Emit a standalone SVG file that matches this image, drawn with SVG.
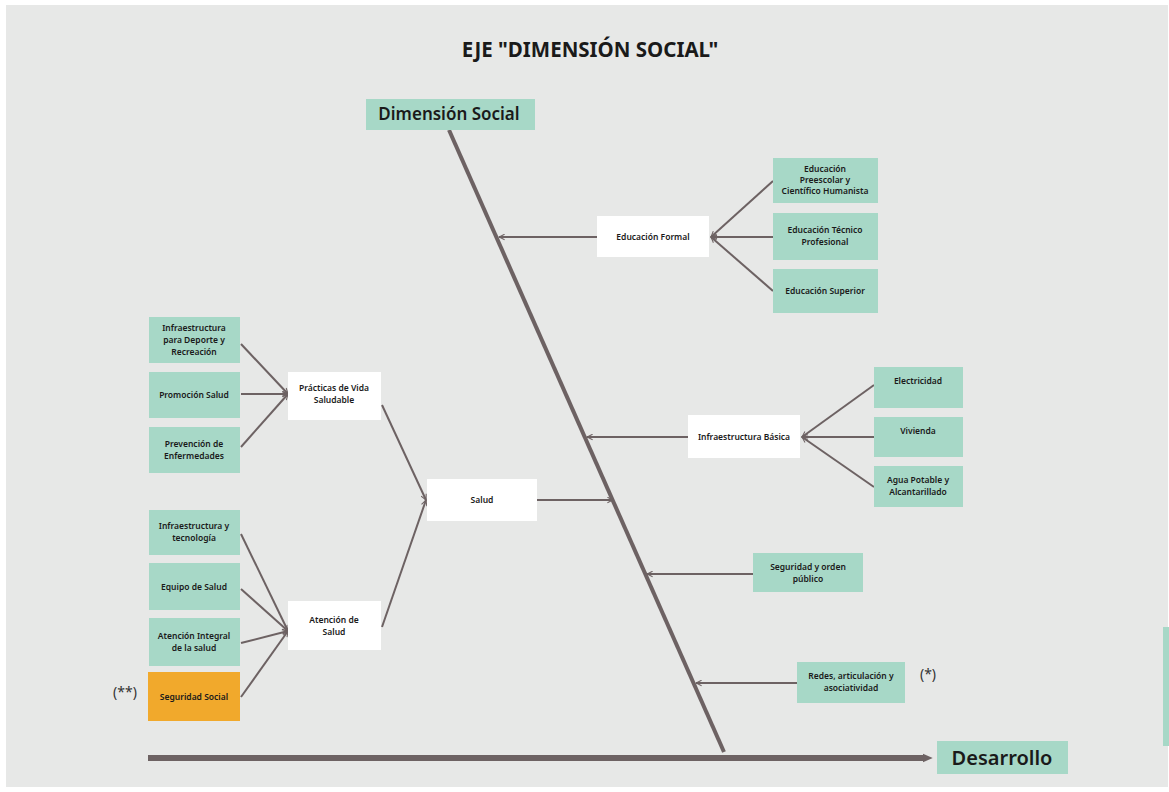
<svg xmlns="http://www.w3.org/2000/svg" width="1169" height="792" viewBox="0 0 1169 792">
<style>
.g{fill:#a7d8c7}
.w{fill:#ffffff}
.o{fill:#f1a92c}
.t{font-family:"Noto Sans","Open Sans",sans-serif;font-size:8.5px;font-weight:600;fill:#1a1a1a;text-anchor:middle}
.c{stroke:#6d6263;stroke-width:2;fill:none}
</style>
<defs>
<marker id="ah" viewBox="0 0 10 10" refX="9" refY="5" markerWidth="7" markerHeight="7" markerUnits="userSpaceOnUse" orient="auto">
<path d="M1,1 L9,5 L1,9" fill="none" stroke="#6d6263" stroke-width="1.5"/>
</marker>
<marker id="big" viewBox="0 0 10 10" refX="2" refY="5" markerWidth="11" markerHeight="11" markerUnits="userSpaceOnUse" orient="auto">
<path d="M0,1 L9,5 L0,9 Z" fill="#6d6263"/>
</marker>
</defs>
<rect x="0" y="0" width="1169" height="792" fill="#ffffff"/>
<rect x="6" y="5" width="1162" height="782" fill="#e7e8e7"/>
<rect x="1163" y="627" width="6" height="119" class="g"/>
<text x="590" y="57" font-family="Noto Sans,Open Sans,sans-serif" font-size="20.5" font-weight="700" fill="#1a1a1a" text-anchor="middle">EJE "DIMENSIÓN SOCIAL"</text>

<g id="connectors">
<line x1="449" y1="130" x2="724" y2="752" stroke="#6d6263" stroke-width="4"/>
<line x1="148" y1="758" x2="925" y2="758" stroke="#6d6263" stroke-width="6" marker-end="url(#big)"/>
<line class="c" x1="597" y1="237" x2="499" y2="237" marker-end="url(#ah)"/>
<line class="c" x1="773" y1="181" x2="711" y2="237" marker-end="url(#ah)"/>
<line class="c" x1="773" y1="237" x2="711" y2="237" marker-end="url(#ah)"/>
<line class="c" x1="773" y1="291" x2="711" y2="237" marker-end="url(#ah)"/>
<line class="c" x1="688" y1="437" x2="587" y2="437" marker-end="url(#ah)"/>
<line class="c" x1="874" y1="385" x2="802" y2="437" marker-end="url(#ah)"/>
<line class="c" x1="874" y1="437" x2="802" y2="437" marker-end="url(#ah)"/>
<line class="c" x1="874" y1="487" x2="802" y2="437" marker-end="url(#ah)"/>
<line class="c" x1="753" y1="574" x2="647" y2="574" marker-end="url(#ah)"/>
<line class="c" x1="797" y1="683" x2="696" y2="683" marker-end="url(#ah)"/>
<line class="c" x1="537" y1="500" x2="613" y2="500" marker-end="url(#ah)"/>
<line class="c" x1="382" y1="405" x2="426" y2="500" marker-end="url(#ah)"/>
<line class="c" x1="382" y1="627" x2="426" y2="500" marker-end="url(#ah)"/>
<line class="c" x1="241" y1="344" x2="288" y2="394" marker-end="url(#ah)"/>
<line class="c" x1="241" y1="394" x2="288" y2="394" marker-end="url(#ah)"/>
<line class="c" x1="241" y1="447" x2="288" y2="394" marker-end="url(#ah)"/>
<line class="c" x1="241" y1="534" x2="288" y2="631" marker-end="url(#ah)"/>
<line class="c" x1="241" y1="589" x2="288" y2="631" marker-end="url(#ah)"/>
<line class="c" x1="241" y1="643" x2="288" y2="631" marker-end="url(#ah)"/>
<line class="c" x1="241" y1="697" x2="288" y2="631" marker-end="url(#ah)"/>
</g>

<g id="dimension-social">
<rect x="366" y="99" width="169" height="31" class="g"/>
<text x="449" y="120" font-family="Noto Sans,Open Sans,sans-serif" font-size="17" font-weight="600" fill="#1a1a1a" text-anchor="middle">Dimensión Social</text>
</g>
<g id="desarrollo">
<rect x="937" y="741" width="131" height="33" class="g"/>
<text x="1002" y="765" font-family="Noto Sans,Open Sans,sans-serif" font-size="20" font-weight="600" fill="#1a1a1a" text-anchor="middle">Desarrollo</text>
</g>

<g id="educacion-formal">
<rect x="597" y="216" width="112" height="41" class="w"/>
<text x="653" y="240" class="t">Educación Formal</text>
</g>
<g id="edu-preescolar">
<rect x="773" y="158" width="105" height="45" class="g"/>
<text x="825" y="172" class="t">Educación</text>
<text x="825" y="183" class="t">Preescolar y</text>
<text x="825" y="194" class="t">Científico Humanista</text>
</g>
<g id="edu-tecnico">
<rect x="773" y="213" width="105" height="47" class="g"/>
<text x="825" y="233" class="t">Educación Técnico</text>
<text x="825" y="245" class="t">Profesional</text>
</g>
<g id="edu-superior">
<rect x="773" y="269" width="105" height="44" class="g"/>
<text x="825" y="294" class="t">Educación Superior</text>
</g>

<g id="infra-basica">
<rect x="688" y="415" width="112" height="43" class="w"/>
<text x="744" y="440" class="t">Infraestructura Básica</text>
</g>
<g id="electricidad">
<rect x="874" y="367" width="89" height="41" class="g"/>
<text x="918" y="384" class="t">Electricidad</text>
</g>
<g id="vivienda">
<rect x="874" y="417" width="89" height="40" class="g"/>
<text x="918" y="434" class="t">Vivienda</text>
</g>
<g id="agua">
<rect x="874" y="466" width="89" height="41" class="g"/>
<text x="918" y="483" class="t">Agua Potable y</text>
<text x="918" y="495" class="t">Alcantarillado</text>
</g>

<g id="seguridad-orden">
<rect x="753" y="553" width="110" height="39" class="g"/>
<text x="808" y="570" class="t">Seguridad y orden</text>
<text x="808" y="582" class="t">público</text>
</g>
<g id="redes">
<rect x="797" y="662" width="108" height="41" class="g"/>
<text x="851" y="679" class="t">Redes, articulación y</text>
<text x="851" y="691" class="t">asociatividad</text>
<text x="928" y="679" font-family="Noto Sans,Open Sans,sans-serif" font-size="14" fill="#333" text-anchor="middle">(*)</text>
</g>

<g id="salud">
<rect x="427" y="479" width="110" height="42" class="w"/>
<text x="482" y="503" class="t">Salud</text>
</g>
<g id="practicas">
<rect x="288" y="372" width="93" height="48" class="w"/>
<text x="334" y="391" class="t">Prácticas de Vida</text>
<text x="334" y="403" class="t">Saludable</text>
</g>
<g id="atencion-salud">
<rect x="288" y="601" width="93" height="49" class="w"/>
<text x="334" y="623" class="t">Atención de</text>
<text x="334" y="635" class="t">Salud</text>
</g>

<g id="infra-deporte">
<rect x="149" y="317" width="91" height="46" class="g"/>
<text x="194" y="331" class="t">Infraestructura</text>
<text x="194" y="343" class="t">para Deporte y</text>
<text x="194" y="355" class="t">Recreación</text>
</g>
<g id="promocion">
<rect x="149" y="372" width="91" height="46" class="g"/>
<text x="194" y="398" class="t">Promoción Salud</text>
</g>
<g id="prevencion">
<rect x="149" y="427" width="91" height="46" class="g"/>
<text x="194" y="447" class="t">Prevención de</text>
<text x="194" y="459" class="t">Enfermedades</text>
</g>
<g id="infra-tecno">
<rect x="149" y="510" width="91" height="45" class="g"/>
<text x="194" y="529" class="t">Infraestructura y</text>
<text x="194" y="541" class="t">tecnología</text>
</g>
<g id="equipo">
<rect x="149" y="563" width="91" height="47" class="g"/>
<text x="194" y="590" class="t">Equipo de Salud</text>
</g>
<g id="atencion-integral">
<rect x="149" y="618" width="91" height="48" class="g"/>
<text x="194" y="639" class="t">Atención Integral</text>
<text x="194" y="651" class="t">de la salud</text>
</g>
<g id="seguridad-social">
<rect x="148" y="672" width="92" height="49" class="o"/>
<text x="194" y="700" class="t">Seguridad Social</text>
<text x="125" y="697" font-family="Noto Sans,Open Sans,sans-serif" font-size="14" fill="#333" text-anchor="middle">(**)</text>
</g>
</svg>
